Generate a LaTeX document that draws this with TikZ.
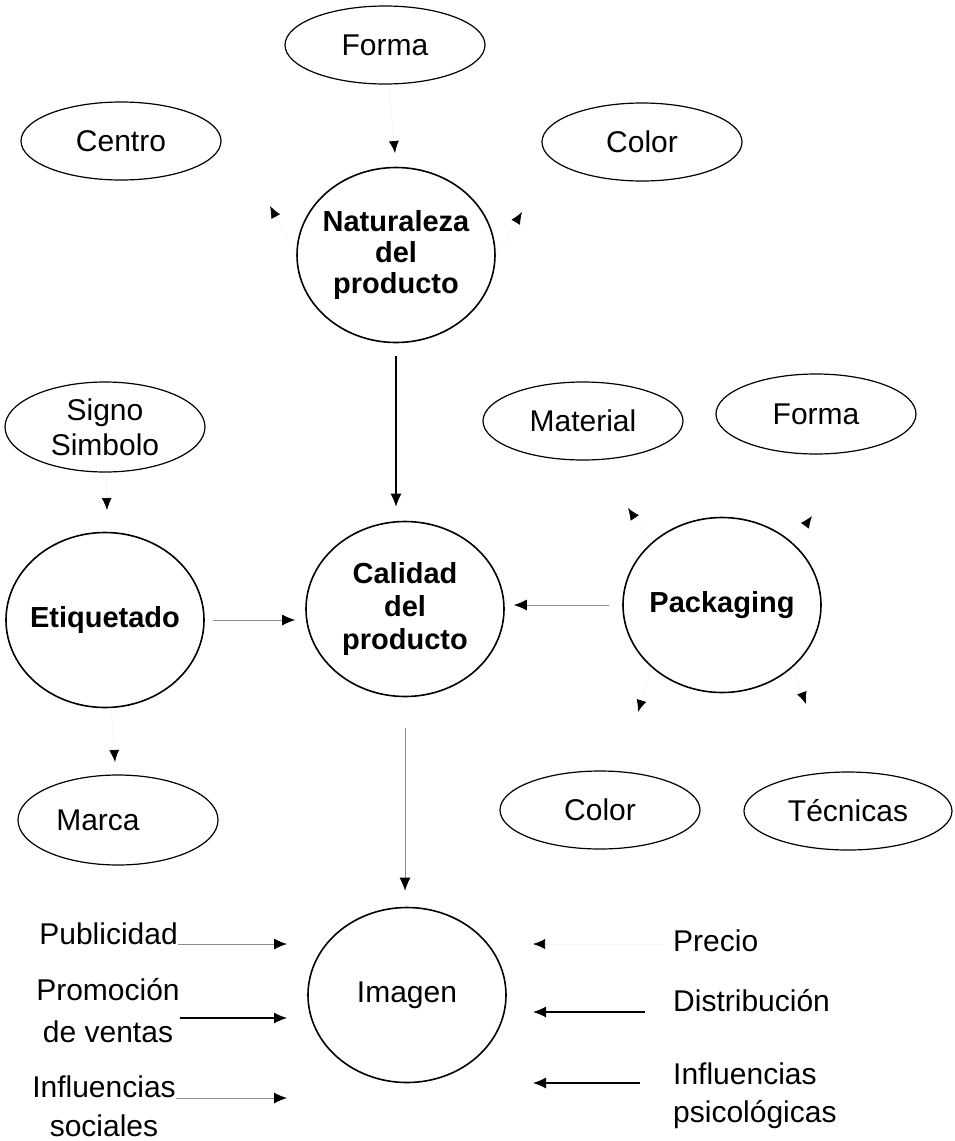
\documentclass[tikz,border=0pt]{standalone}
\usepackage{fontspec}
\setmainfont{Liberation Sans}
\usetikzlibrary{shapes.geometric,arrows.meta}

\begin{document}
\begin{tikzpicture}[x=1pt,y=-1pt,
  every node/.style={font=\fontsize{30}{32}\selectfont},
  rond/.style={ellipse,draw,line width=1.6pt,minimum width=198pt,minimum height=175pt,inner sep=-25pt,align=center,font=\fontsize{29}{31}\selectfont\bfseries},
  ovale/.style={ellipse,draw,line width=1.2pt,minimum width=200pt,minimum height=78pt,inner sep=0pt,align=center},
  txt/.style={inner sep=0pt},
  fleche/.style={line width=1.1pt,-{Latex[length=13pt,width=11pt]}},
  pale/.style={draw=black!45,line width=0.9pt,-{Latex[length=13pt,width=11pt,color=black]}},
  fantome/.style={draw=black!4,line width=0.7pt,-{Latex[length=12pt,width=10pt,color=black]}}]
\useasboundingbox (0,0) rectangle (955,1141);
% ellipses du haut
\node[ovale] (forma) at (385,45) {Forma};
\node[ovale] (centro) at (121,141) {Centro};
\node[ovale] (color) at (642,142) {Color};
\node[rond] (nat) at (396,255) {Naturaleza\\del\\producto};
% niveau du milieu
\node[ovale,minimum height=90pt,font=\fontsize{30}{35}\selectfont] (signo) at (105,427) {Signo\\Simbolo};
\node[ovale] (material) at (583,421) {Material};
\node[ovale,minimum height=80pt] (forma2) at (816,414) {Forma};
\node[rond] (etiq) at (105,620) {Etiquetado};
\node[rond,font=\fontsize{29}{33}\selectfont\bfseries] (calidad) at (405,609) {Calidad\\del\\producto};
\node[rond] (pack) at (722,605) {Packaging};
\node[ovale,minimum height=90pt] (marca) at (118,820) {Marca\hspace{40pt}};
\node[ovale] (color2) at (600,810) {Color};
\node[ovale,minimum width=208pt] (tecnicas) at (848,811) {Técnicas};
% image
\node[rond,font=\fontsize{30}{32}\selectfont] (imagen) at (407,995) {Imagen};
\node[txt,anchor=base east] (pub) at (178,944) {Publicidad};
\node[txt,align=center,font=\fontsize{30}{42}\selectfont] (prom) at (108,1011) {Promoción\\de ventas};
\node[txt,align=center,font=\fontsize{30}{39}\selectfont] (infs) at (104,1106) {Influencias\\sociales};
\node[txt,anchor=base west] (precio) at (673,951) {Precio};
\node[txt,anchor=base west] (dist) at (673,1011) {Distribución};
\node[txt,align=left,anchor=west,font=\fontsize{30}{38}\selectfont] (infp) at (673,1096) {Influencias\\psicológicas};
% bouts de fleches
\coordinate (tFo) at (395,153);
\coordinate (tCe) at (270,206);
\coordinate (tCo) at (522,212);
\coordinate (tSi) at (107,510);
\coordinate (tMa) at (115,762);
\coordinate (tP1) at (628,508);
\coordinate (tP2) at (812,516);
\coordinate (tP3) at (806,704);
\coordinate (tP4) at (638,712);
\coordinate (tPub) at (287,944);
\coordinate (tProm) at (287,1018);
\coordinate (tInfs) at (287,1098);
\coordinate (tPr) at (533,944);
\coordinate (tDist) at (533,1012);
\coordinate (tInfp) at (533,1083);
% fleches principales
\draw[fleche,shorten <=13pt,shorten >=14pt] (nat.south) -- (nat.south |- calidad.north);
\draw[pale,shorten <=31pt,shorten >=16pt] (calidad.south) -- (calidad.south |- imagen.north);
\draw[pale,shorten <=8pt,shorten >=10pt] (etiq.east) -- (etiq.east -| calidad.west);
\draw[pale,shorten <=13pt,shorten >=9pt] (pack.west) -- (pack.west -| calidad.east);
% fleches presque effacees
\draw[fantome] (forma) -- (tFo);
\draw[fantome] (nat.west) -- (tCe);
\draw[fantome] (nat.east) -- (tCo);
\draw[fantome] (signo) -- (tSi);
\draw[fantome] (etiq) -- (tMa);
\draw[fantome] (pack.north west) -- (tP1);
\draw[fantome] (pack.north east) -- (tP2);
\draw[fantome] (pack.south east) -- (tP3);
\draw[fantome] (pack.south west) -- (tP4);
% vers l'image
\draw[pale] (pub.base east) -- (tPub);
\draw[fleche] (prom.east |- tProm) -- (tProm);
\draw[pale] (infs.east |- tInfs) -- (tInfs);
\draw[fantome,shorten <=8pt] (precio.west |- tPr) -- (tPr);
\draw[fleche,shorten <=28pt] (dist.west |- tDist) -- (tDist);
\draw[fleche,shorten <=33pt] (infp.west |- tInfp) -- (tInfp);
\end{tikzpicture}
\end{document}
